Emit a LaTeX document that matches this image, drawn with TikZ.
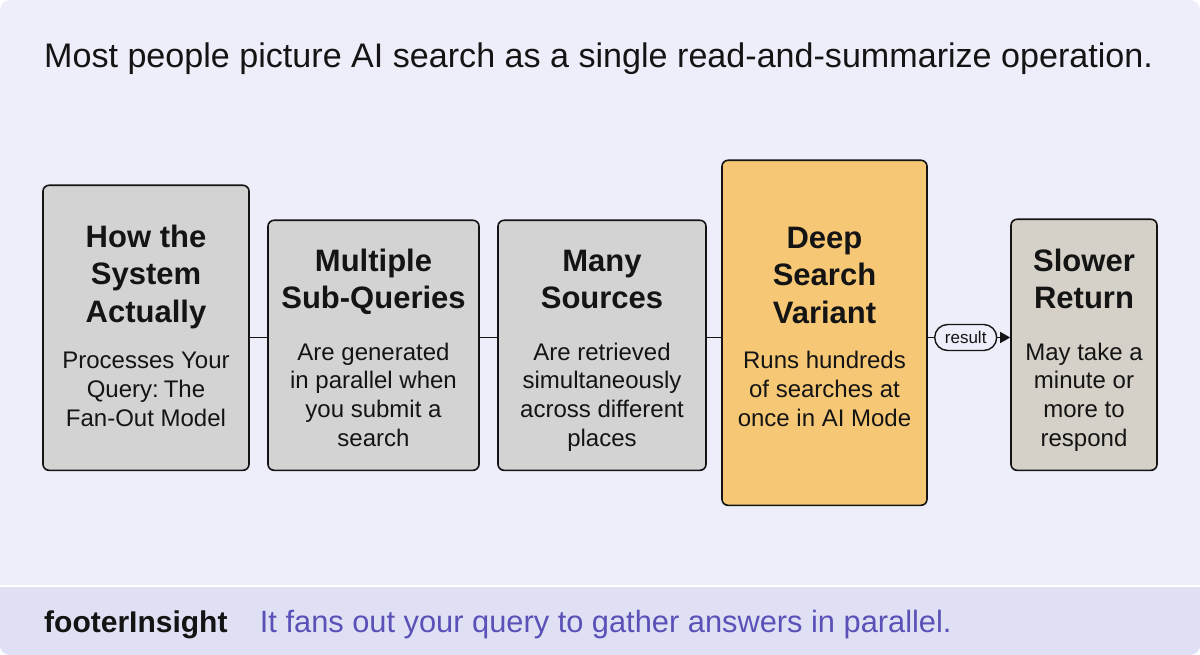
\documentclass[tikz,border=0pt]{standalone}
\usepackage{fontspec}
\setmainfont{Liberation Sans}
\usetikzlibrary{positioning,arrows.meta}

\definecolor{cardbg}{HTML}{EEEEFA}
\definecolor{footbg}{HTML}{E0E0F4}
\definecolor{stagegray}{HTML}{D3D3D3}
\definecolor{stagewarm}{HTML}{D5D0C8}
\definecolor{stagegold}{HTML}{F6C875}
\definecolor{inkdark}{HTML}{141414}
\definecolor{footpurple}{HTML}{5B50B8}

% heading and body of a stage box
\newcommand{\stagehead}[1]{{\fontsize{31}{37.5}\selectfont\bfseries\spaceskip=\fontdimen2\font #1\par}}
\newcommand{\stagetext}[1]{{\fontsize{24}{28.7}\selectfont\spaceskip=\fontdimen2\font #1\par}}

\begin{document}
\begin{tikzpicture}[x=1pt, y=-1pt,
  stage/.style={draw=inkdark, line width=1.6pt, rounded corners=6pt, anchor=north,
    fill=stagegray, text=inkdark, inner sep=0pt, align=center},
  link/.style={draw=inkdark, line width=1.3pt},
  pill/.style={draw=inkdark, line width=1.4pt, fill=cardbg, rounded corners=13pt,
    minimum width=62, minimum height=26, inner sep=0pt, text=inkdark,
    font=\fontsize{17}{19}\selectfont}]
  \useasboundingbox (0,0) rectangle (1200,655);

  % card and footer band
  \begin{scope}
    \clip[rounded corners=10pt] (0,0) rectangle (1200,655);
    \fill[cardbg] (0,0) rectangle (1200,655);
    \fill[footbg] (0,587) rectangle (1200,655);
    \fill[white] (0,584.5) rectangle (1200,587);
  \end{scope}

  \node[anchor=base west, inner sep=0pt, text=inkdark, font=\fontsize{34.1}{40}\selectfont] (headline) at (44,68)
    {Most people picture AI search as a single read-and-summarize operation.};

  % the five stages (text height = top edge to first baseline)
  \node[stage, minimum width=206, text width=190pt, text height=62pt, text depth=223pt] (sys) at (146,184.5)
    {\stagehead{How the\\System\\Actually}\vspace{17.8pt}\stagetext{Processes Your\\Query: The\\Fan-Out Model}};
  \node[stage, minimum width=211, text width=195pt, text height=51pt, text depth=199pt] (subq) at (373.5,219.5)
    {\stagehead{Multiple\\Sub-Queries}\vspace{22.8pt}\stagetext{Are generated\\in parallel when\\you submit a\\search}};
  \node[stage, minimum width=208, text width=192pt, text height=51pt, text depth=199pt] (srcs) at (602,219.5)
    {\stagehead{Many\\Sources}\vspace{22.8pt}\stagetext{Are retrieved\\simultaneously\\across different\\places}};
  \node[stage, fill=stagegold, minimum width=205, text width=190pt, text height=88pt, text depth=257pt] (deep) at (824.5,159.5)
    {\stagehead{Deep\\Search\\Variant}\vspace{16.8pt}\stagetext{Runs hundreds\\of searches at\\once in AI Mode}};
  \node[stage, fill=stagewarm, minimum width=146, text width=140pt, text height=52pt, text depth=199pt] (slow) at (1084,218.5)
    {\stagehead{Slower\\Return}\vspace{22.8pt}\stagetext{May take a\\minute or\\more to\\respond}};

  % connectors
  \coordinate (flow) at (0,337.5);
  \draw[link] (sys.east |- flow) -- (subq.west |- flow);
  \draw[link] (subq.east |- flow) -- (srcs.west |- flow);
  \draw[link] (srcs.east |- flow) -- (deep.west |- flow);
  \draw[link, -{Triangle[length=10pt, width=11pt]}] (deep.east |- flow)
    -- node[pill, pos=0.46] (res) {result} (slow.west |- flow);

  % footer
  \node[anchor=base west, inner sep=0pt, text=inkdark, font=\fontsize{30}{36}\selectfont\bfseries] (insightkey) at (44,632) {footerInsight};
  \node[base right=32pt of insightkey, inner sep=0pt, text=footpurple, font=\fontsize{30.8}{36}\selectfont] (insighttext)
    {It fans out your query to gather answers in parallel.};
\end{tikzpicture}
\end{document}
